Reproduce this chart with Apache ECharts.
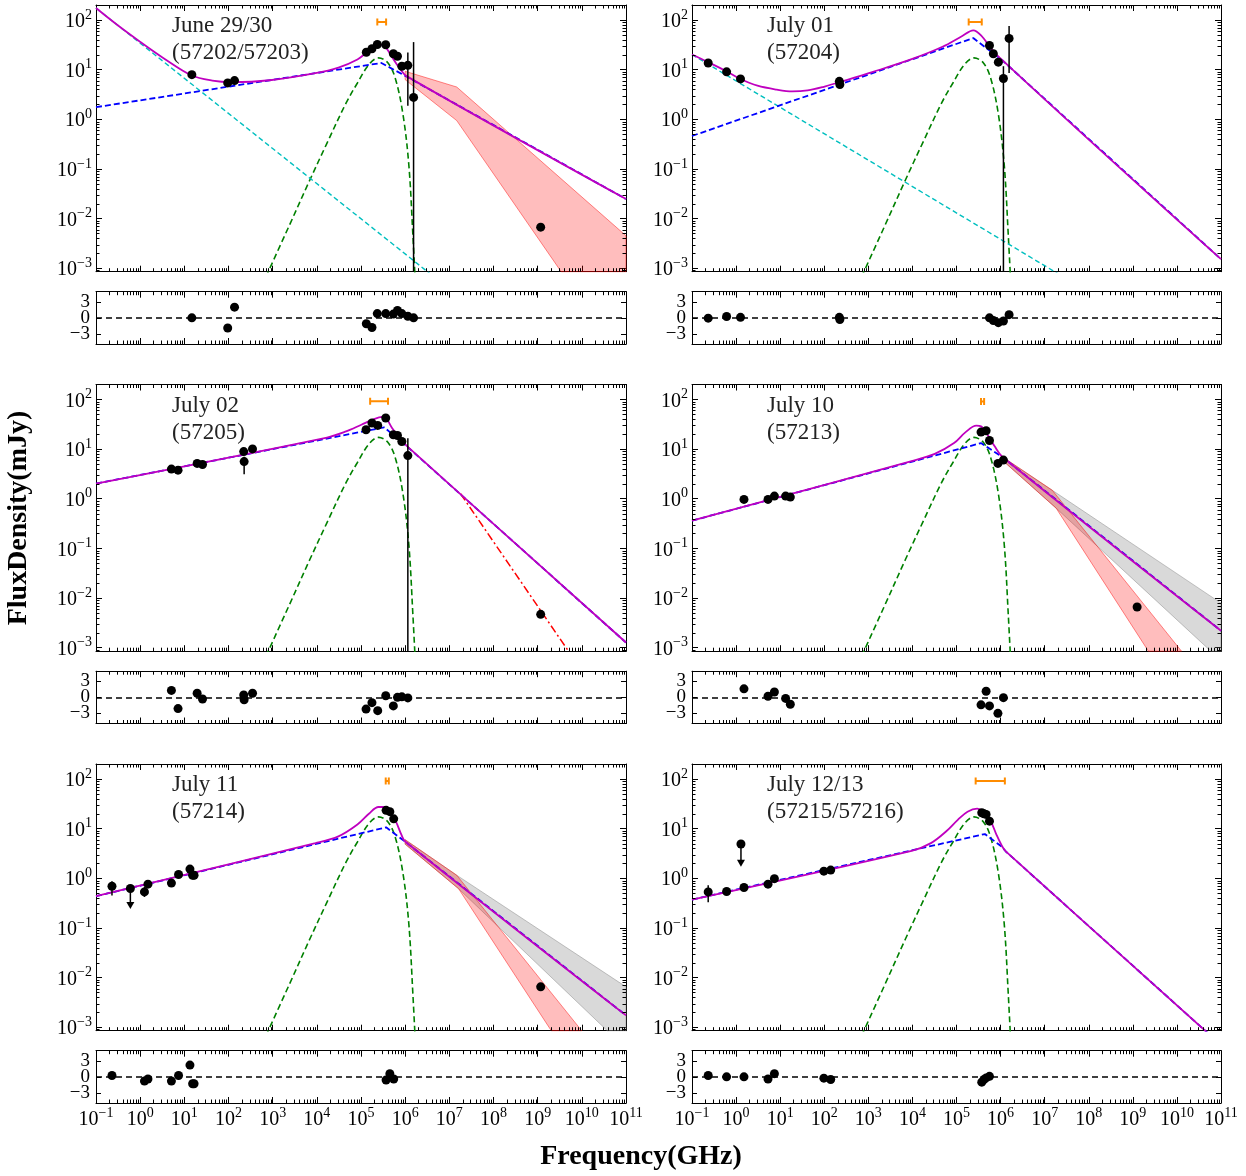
<!DOCTYPE html>
<html><head><meta charset="utf-8">
<script src="https://cdn.jsdelivr.net/npm/echarts@6/dist/echarts.min.js"></script>
<style>html,body{margin:0;padding:0;background:#fff}#c{width:1246px;height:1176px}</style>
</head><body><div id="c"></div>
<script>
// ======================= DATA (frequency in GHz, flux density in mJy) =======================
const xDecades = [-1,0,1,2,3,4,5,6,7,8,9,10,11];
const yDecades = [-3,-2,-1,0,1,2];
const resTicks = [-3,0,3];
const minorMult = [2,3,4,5,6,7,8,9];

const panelTitles = [['June 29/30','(57202/57203)'],['July 01','(57204)'],['July 02','(57205)'],['July 10','(57213)'],['July 11','(57214)'],['July 12/13','(57215/57216)']];

// shared thermal bump (green dashed)
const bumpFreq = [708, 2.32e3, 6.9e3, 1.69e4, 4.58e4, 8.3e4, 1.51e5, 2.49e5, 4.09e5, 6.1e5, 9.08e5, 1.22e6, 1.49e6, 1.7e6];
const bumpFlux = [6.8e-4, 6.9e-3, 0.059, 0.327, 2.11, 5.37, 12.6, 17.2, 13.6, 6.27, 1.13, 0.11, 4.9e-3, 5.0e-4];

// ---- Panel 1: June 29/30
const p1Freq = [14.8, 96, 137, 1.32e5, 1.77e5, 2.34e5, 3.63e5, 5.4e5, 6.7e5, 8.4e5, 1.15e6, 1.55e6, 1.17e9];
const p1Flux = [7.9, 5.4, 6.0, 22.4, 26.3, 32, 31.6, 20.8, 18.6, 11.7, 12.2, 2.75, 0.0067];
const p1ErrFreq = [1.15e6, 1.55e6];
const p1ErrLo = [1.86, 1e-5];
const p1ErrHi = [22, 35.8];
const p1ResFreq = [14.8, 96, 137, 1.32e5, 1.77e5, 2.34e5, 3.63e5, 5.4e5, 6.7e5, 8.4e5, 1.15e6, 1.55e6];
const p1Res = [0, -1.9, 2.0, -1.1, -1.8, 0.8, 0.8, 0.7, 1.4, 0.8, 0.3, 0];
const p1Opt = [2.34e5, 3.7e5, 91];
const p1TotFreq = [0.1, 0.3, 0.99, 3.26, 14.8, 43, 117, 857, 9.3e3, 3.08e4, 8.3e4, 1.51e5, 2.25e5, 3.0e5, 3.7e5, 5.0e5, 7.4e5, 1.1e6, 1e11];
const p1TotFlux = [174, 80, 36.5, 17.4, 7.6, 6.0, 5.6, 6.1, 8.5, 11, 16, 24, 29.5, 31.5, 27.5, 18.1, 10.8, 7.3, 0.0247];
const p1SynFreq = [0.1, 2.9e5, 1.1e6, 1e11];
const p1SynFlux = [1.75, 13.6, 7.15, 0.0247];
const p1SteepFreq = [0.1, 1e7];
const p1SteepFlux = [174, 3.8e-4];
const p1RedUpFreq = [1e6, 1.47e7, 1e11];
const p1RedUpFlux = [9.25, 4.46, 4.5e-3];
const p1RedLoFreq = [1e6, 1.47e7, 3.5e9, 1e11];
const p1RedLoFlux = [6.27, 0.94, 8.2e-4, 1.1e-5];

// ---- Panel 2: July 01
const p2Freq = [0.233, 0.61, 1.26, 220, 226, 5.6e5, 6.85e5, 8.9e5, 1.16e6, 1.56e6];
const p2Flux = [13.6, 9.0, 6.5, 5.8, 5.0, 30.6, 20.8, 14.1, 6.6, 42.5];
const p2ErrFreq = [226, 1.16e6, 1.56e6];
const p2ErrLo = [4.3, 1e-5, 8.5];
const p2ErrHi = [7.1, 11.7, 75.5];
const p2ResFreq = [0.233, 0.61, 1.26, 220, 226, 5.6e5, 6.85e5, 8.9e5, 1.16e6, 1.56e6];
const p2Res = [-0.06, 0.25, 0.1, 0.1, -0.3, 0, -0.5, -0.9, -0.6, 0.6];
const p2Opt = [1.89e5, 3.74e5, 91];
const p2TotFreq = [0.1, 0.233, 0.61, 1.26, 3.06, 8.4, 18.8, 41.9, 93.8, 223, 1.28e3, 9.6e3, 4.81e4, 1.32e5, 2.4e5, 3.6e5, 8.05e5, 1e11];
const p2TotFlux = [20.1, 14.1, 9.25, 6.47, 4.74, 3.94, 3.64, 3.81, 4.46, 5.6, 9.0, 16.2, 28.8, 46.8, 61.8, 48.9, 20.1, 1.52e-3];
const p2SynFreq = [0.1, 2.4e5, 1.09e6, 1e11];
const p2SynFlux = [0.46, 43.2, 15.4, 1.52e-3];
const p2SteepFreq = [0.1, 1e8];
const p2SteepFlux = [20.1, 3.3e-4];

// ---- Panel 3: July 02
const p3Freq = [5.1, 7.2, 19.5, 25.8, 221, 226, 350, 1.3e5, 1.77e5, 2.39e5, 3.63e5, 5.4e5, 6.7e5, 8.4e5, 1.15e6, 1.17e9];
const p3Flux = [3.95, 3.77, 5.15, 4.9, 8.9, 5.6, 10.1, 24.5, 33.5, 30, 42.4, 19.4, 18.8, 14.2, 7.4, 4.7e-3];
const p3ErrFreq = [226, 1.15e6];
const p3ErrLo = [3.1, 1e-5];
const p3ErrHi = [7.0, 16.6];
const p3ResFreq = [5.1, 7.2, 19.5, 25.8, 221, 226, 350, 1.3e5, 1.77e5, 2.39e5, 3.63e5, 5.4e5, 6.7e5, 8.4e5, 1.15e6];
const p3Res = [1.3, -2.1, 0.76, -0.3, 0.45, -0.45, 0.76, -2.2, -1.0, -2.5, 0.3, -1.6, 0, 0.1, -0.1];
const p3Opt = [1.61e5, 4.09e5, 92];
const p3TotFreq = [0.1, 1.7e4, 4.58e4, 1.02e5, 1.85e5, 3.03e5, 3.7e5, 5.0e5, 8.2e5, 1.1e6, 1e11];
const p3TotFlux = [2.02, 17.1, 22.7, 31, 39.2, 44.4, 42.4, 27, 15.3, 11.5, 1.27e-3];
const p3SynFreq = [0.1, 3.35e5, 1.1e6, 1e11];
const p3SynFlux = [2.02, 27.4, 11.3, 1.27e-3];
const p3ExtFreq = [1.8e7, 1e10];
const p3ExtFlux = [1.26, 3.45e-4];

// ---- Panel 4: July 10
const p4Freq = [1.51, 5.3, 7.4, 13.3, 17, 3.6e5, 4.7e5, 5.6e5, 8.7e5, 1.16e6, 1.25e9];
const p4Flux = [0.97, 0.97, 1.13, 1.13, 1.08, 22, 23.4, 14.9, 5.15, 6.0, 6.6e-3];
const p4ResFreq = [1.51, 5.3, 7.4, 13.3, 17, 3.6e5, 4.7e5, 5.6e5, 8.7e5, 1.16e6];
const p4Res = [1.6, 0.2, 1.0, -0.2, -1.3, -1.4, 1.15, -1.6, -3.0, -0.06];
const p4Opt = [3.6e5, 4.23e5, 91];
const p4TotFreq = [0.1, 9.6e3, 3.21e4, 8.79e4, 1.61e5, 2.82e5, 3.6e5, 5.38e5, 7.28e5, 1.09e6, 1e11];
const p4TotFlux = [0.362, 5.74, 8.0, 13.2, 22, 29.6, 28.7, 17.9, 11.5, 7.03, 2.2e-3];
const p4SynFreq = [0.1, 3.6e5, 1.09e6, 1e11];
const p4SynFlux = [0.362, 13.2, 6.95, 2.2e-3];
const p4RedUpFreq = [1.09e6, 1.49e7, 1e11];
const p4RedUpFlux = [7.03, 1.48, 8.7e-5];
const p4RedLoFreq = [1.09e6, 1.82e7, 1e11];
const p4RedLoFlux = [6.0, 0.646, 4.6e-6];
const p4GrayUpFreq = [1.09e6, 1.49e7, 1e11];
const p4GrayUpFlux = [7.03, 1.48, 7.9e-3];
const p4GrayLoFreq = [1.09e6, 1.82e7, 1e11];
const p4GrayLoFlux = [6.0, 0.646, 5.5e-4];

// ---- Panel 5: July 11
const p5Freq = [0.23, 1.25, 1.5, 5.1, 7.4, 13.4, 15.4, 16.6, 3.7e5, 4.5e5, 5.5e5, 1.17e9];
const p5Flux = [0.69, 0.53, 0.76, 0.80, 1.19, 1.53, 1.15, 1.15, 23.3, 21.9, 15.7, 6.5e-3];
const p5ErrFreq = [0.23, 1.25, 5.1];
const p5ErrLo = [0.45, 0.42, 0.68];
const p5ErrHi = [0.87, 0.67, 0.92];
const p5LimFreq = [0.6];
const p5LimFlux = [0.62];
const p5LimTo = [0.24];
const p5ResFreq = [0.23, 1.25, 1.5, 5.1, 7.4, 13.4, 15.4, 16.6, 3.7e5, 4.5e5, 5.5e5];
const p5Res = [0.25, -0.8, -0.4, -0.8, 0.25, 2.2, -1.3, -1.3, -0.6, 0.6, -0.4];
const p5Opt = [3.63e5, 4.26e5, 91];
const p5TotFreq = [0.1, 9.3e3, 3.08e4, 8.3e4, 1.51e5, 2.49e5, 3.35e5, 4.52e5, 6.1e5, 8.2e5, 1e6, 1e11];
const p5TotFlux = [0.435, 5.1, 6.98, 12.1, 19.9, 27.2, 27.2, 20.9, 14.1, 7.55, 5.51, 1.73e-3];
const p5SynFreq = [0.1, 3.7e5, 1e6, 1e11];
const p5SynFlux = [0.435, 10.6, 5.45, 1.73e-3];
const p5RedUpFreq = [1e6, 1.47e7, 1e11];
const p5RedUpFlux = [5.97, 1.15, 6.6e-5];
const p5RedLoFreq = [1e6, 1.62e7, 1e11];
const p5RedLoFlux = [4.86, 0.615, 4.2e-6];
const p5GrayUpFreq = [1e6, 1.47e7, 1e11];
const p5GrayUpFlux = [5.97, 1.15, 6.5e-3];
const p5GrayLoFreq = [1e6, 1.62e7, 1e11];
const p5GrayLoFlux = [4.86, 0.615, 3.7e-4];

// ---- Panel 6: July 12/13
const p6Freq = [0.233, 0.61, 1.51, 5.3, 7.4, 98, 140, 3.74e5, 4.2e5, 4.7e5, 5.6e5];
const p6Flux = [0.53, 0.54, 0.65, 0.76, 0.98, 1.39, 1.46, 20.9, 19.8, 19.3, 14.1];
const p6ErrFreq = [0.233, 0.61];
const p6ErrLo = [0.33, 0.46];
const p6ErrHi = [0.72, 0.63];
const p6LimFreq = [1.29];
const p6LimFlux = [4.9];
const p6LimTo = [1.7];
const p6ResFreq = [0.233, 0.61, 1.51, 5.3, 7.4, 98, 140, 3.74e5, 4.2e5, 4.7e5, 5.6e5];
const p6Res = [0.25, 0, 0, -0.4, 0.6, -0.25, -0.5, -1.0, -0.5, -0.2, 0.1];
const p6Opt = [2.72e5, 1.25e6, 91];
const p6TotFreq = [0.1, 9.6e3, 2.63e4, 5.87e4, 1.07e5, 1.78e5, 2.94e5, 3.98e5, 5.96e5, 8.05e5, 1.09e6, 1.33e6, 1e11];
const p6TotFlux = [0.372, 3.56, 5.09, 8.83, 15, 21.9, 25.2, 21.9, 14.1, 7.55, 4.36, 3.44, 4.4e-4];
const p6SynFreq = [0.1, 4.4e5, 1.09e6, 1.33e6, 1e11];
const p6SynFlux = [0.372, 7.78, 4.25, 3.42, 4.4e-4];

// ======================= BUILD =======================
const LOG = v => Math.log10(v);
const FONT = '"Liberation Serif", "Times New Roman", serif';
const COL_X = [96, 692], COL_W = [530, 529];
const ROW_Y = [5, 384.5, 764];
const MAIN_H = 266.7, RES_OFF = 286.7, RES_H = 52.3;
const Y_MIN = LOG(8.5e-4), Y_MAX = LOG(200);
const R_MIN = -4.9, R_MAX = 4.9;

const panels = [
  {freq:p1Freq, flux:p1Flux, errF:p1ErrFreq, errLo:p1ErrLo, errHi:p1ErrHi, resF:p1ResFreq, res:p1Res, opt:p1Opt,
   tot:[p1TotFreq,p1TotFlux], syn:[p1SynFreq,p1SynFlux], steep:[p1SteepFreq,p1SteepFlux],
   red:[p1RedUpFreq,p1RedUpFlux,p1RedLoFreq,p1RedLoFlux]},
  {freq:p2Freq, flux:p2Flux, errF:p2ErrFreq, errLo:p2ErrLo, errHi:p2ErrHi, resF:p2ResFreq, res:p2Res, opt:p2Opt,
   tot:[p2TotFreq,p2TotFlux], syn:[p2SynFreq,p2SynFlux], steep:[p2SteepFreq,p2SteepFlux]},
  {freq:p3Freq, flux:p3Flux, errF:p3ErrFreq, errLo:p3ErrLo, errHi:p3ErrHi, resF:p3ResFreq, res:p3Res, opt:p3Opt,
   tot:[p3TotFreq,p3TotFlux], syn:[p3SynFreq,p3SynFlux], ext:[p3ExtFreq,p3ExtFlux]},
  {freq:p4Freq, flux:p4Flux, resF:p4ResFreq, res:p4Res, opt:p4Opt,
   tot:[p4TotFreq,p4TotFlux], syn:[p4SynFreq,p4SynFlux],
   gray:[p4GrayUpFreq,p4GrayUpFlux,p4GrayLoFreq,p4GrayLoFlux], red:[p4RedUpFreq,p4RedUpFlux,p4RedLoFreq,p4RedLoFlux]},
  {freq:p5Freq, flux:p5Flux, errF:p5ErrFreq, errLo:p5ErrLo, errHi:p5ErrHi, lim:[p5LimFreq,p5LimFlux,p5LimTo], resF:p5ResFreq, res:p5Res, opt:p5Opt,
   tot:[p5TotFreq,p5TotFlux], syn:[p5SynFreq,p5SynFlux],
   gray:[p5GrayUpFreq,p5GrayUpFlux,p5GrayLoFreq,p5GrayLoFlux], red:[p5RedUpFreq,p5RedUpFlux,p5RedLoFreq,p5RedLoFlux]},
  {freq:p6Freq, flux:p6Flux, errF:p6ErrFreq, errLo:p6ErrLo, errHi:p6ErrHi, lim:[p6LimFreq,p6LimFlux,p6LimTo], resF:p6ResFreq, res:p6Res, opt:p6Opt,
   tot:[p6TotFreq,p6TotFlux], syn:[p6SynFreq,p6SynFlux]}
];

const xMinor = []; xDecades.slice(0,-1).forEach(k => minorMult.forEach(m => xMinor.push(k + LOG(m))));
const yMinor = []; [-4,-3,-2,-1,0,1,2].forEach(k => minorMult.forEach(m => { const v = k + LOG(m); if (v > Y_MIN && v < Y_MAX) yMinor.push(v); }));

const richLog = {
  b: {fontFamily: FONT, fontSize: 20, lineHeight: 24, verticalAlign: 'bottom', color: '#000'},
  s: {fontFamily: FONT, fontSize: 14, lineHeight: 12, verticalAlign: 'top', color: '#000'}
};
function logLabel(v) {
  const e = Math.round(v);
  if (Math.abs(v - e) > 1e-6) return '';
  return '{b|10}{s|' + (e < 0 ? '\u2212' + (-e) : e) + '}';
}
function resLabel(v) {
  return v < 0 ? '\u2212' + (-v) : String(v);
}
const axLine = {show: true, onZero: false, lineStyle: {color: '#000', width: 1}};
const tickStyle = {color: '#000', width: 1};

function clipPoly(pts, r) {
  const X0 = r.x, X1 = r.x + r.width, Y0 = r.y, Y1 = r.y + r.height;
  const edges = [
    [p => p[0] >= X0, (a, b) => [X0, a[1] + (X0 - a[0]) / (b[0] - a[0]) * (b[1] - a[1])]],
    [p => p[0] <= X1, (a, b) => [X1, a[1] + (X1 - a[0]) / (b[0] - a[0]) * (b[1] - a[1])]],
    [p => p[1] >= Y0, (a, b) => [a[0] + (Y0 - a[1]) / (b[1] - a[1]) * (b[0] - a[0]), Y0]],
    [p => p[1] <= Y1, (a, b) => [a[0] + (Y1 - a[1]) / (b[1] - a[1]) * (b[0] - a[0]), Y1]]
  ];
  let out = pts;
  for (const [inside, inter] of edges) {
    const inp = out; out = [];
    for (let i = 0; i < inp.length; i++) {
      const cur = inp[i], prev = inp[(i + inp.length - 1) % inp.length];
      const ci = inside(cur), pi = inside(prev);
      if (ci) { if (!pi) out.push(inter(prev, cur)); out.push(cur); }
      else if (pi) out.push(inter(prev, cur));
    }
  }
  return out;
}

const grids = [], xAxes = [], yAxes = [], series = [], graphics = [];

function addGrid(left, top, width, height, isMain, showXLabels) {
  const g = grids.length;
  grids.push({left, top, width, height});
  const xb = {type: 'value', gridIndex: g, min: -1, max: 11, interval: 1, splitLine: {show: false}, axisLine: axLine,
              axisTick: {show: true, inside: true, length: 6, lineStyle: tickStyle}};
  xAxes.push(Object.assign({}, xb, {position: 'bottom',
    axisLabel: showXLabels ? {show: true, margin: 3, hideOverlap: false, formatter: logLabel, rich: richLog} : {show: false}}));
  xAxes.push(Object.assign({}, xb, {position: 'top', axisLabel: {show: false}}));
  let yb;
  if (isMain) {
    yb = {type: 'value', gridIndex: g, min: Y_MIN, max: Y_MAX, splitNumber: 5, splitLine: {show: false}, axisLine: axLine,
          axisTick: {show: true, inside: true, length: 6, lineStyle: tickStyle, customValues: yDecades}};
    yAxes.push(Object.assign({}, yb, {position: 'left',
      axisLabel: {show: true, margin: 4, hideOverlap: false, formatter: logLabel, rich: richLog, customValues: yDecades}}));
  } else {
    yb = {type: 'value', gridIndex: g, min: R_MIN, max: R_MAX, splitNumber: 3, splitLine: {show: false}, axisLine: axLine,
          axisTick: {show: true, inside: true, length: 5, lineStyle: tickStyle, customValues: resTicks},
          axisLabel: {show: false}};
    yAxes.push(Object.assign({}, yb, {position: 'left'}));
  }
  yAxes.push(Object.assign({}, yb, {position: 'right', axisLabel: {show: false}}));
  // minor ticks (log decade subdivisions) + residual tick labels
  series.push({type: 'custom', xAxisIndex: 2 * g, yAxisIndex: 2 * g, silent: true, z: 6, data: [[0, 0]],
    renderItem(params, api) {
      const cs = params.coordSys, ch = [], st = {stroke: '#000', lineWidth: 1};
      xMinor.forEach(v => {
        const x = Math.round(api.coord([v, 0])[0]) + 0.5;
        ch.push({type: 'line', shape: {x1: x, y1: cs.y + cs.height, x2: x, y2: cs.y + cs.height - 3.5}, style: st});
        ch.push({type: 'line', shape: {x1: x, y1: cs.y, x2: x, y2: cs.y + 3.5}, style: st});
      });
      if (isMain) {
        yMinor.forEach(v => {
          const y = Math.round(api.coord([0, v])[1]) + 0.5;
          ch.push({type: 'line', shape: {x1: cs.x, y1: y, x2: cs.x + 3.5, y2: y}, style: st});
          ch.push({type: 'line', shape: {x1: cs.x + cs.width, y1: y, x2: cs.x + cs.width - 3.5, y2: y}, style: st});
        });
      } else {
        resTicks.forEach(v => {
          const y = api.coord([0, v])[1];
          ch.push({type: 'text', x: cs.x - 6, y: y,
            style: {text: resLabel(v), font: '19px ' + FONT, fill: '#000',
                    textAlign: 'right', textVerticalAlign: 'middle', align: 'right', verticalAlign: 'middle'}});
        });
      }
      return {type: 'group', children: ch};
    }});
  return g;
}

function line(g, fr, fl, color, width, dash, smooth, z) {
  series.push({type: 'line', xAxisIndex: 2 * g, yAxisIndex: 2 * g, silent: true, z: z, clip: true,
    showSymbol: false, symbol: 'none', smooth: smooth || false,
    data: fr.map((f, i) => [LOG(f), LOG(fl[i])]),
    lineStyle: {color: color, width: width, type: dash || 'solid'}});
}
function band(g, b, fill, stroke) {
  const [uf, uv, lf, lv] = b;
  series.push({type: 'custom', xAxisIndex: 2 * g, yAxisIndex: 2 * g, silent: true, z: 1, data: [[0, 0]],
    renderItem(params, api) {
      const up = uf.map((f, i) => api.coord([LOG(f), LOG(uv[i])]));
      const lo = lf.map((f, i) => api.coord([LOG(f), LOG(lv[i])])).reverse();
      return {type: 'polygon', shape: {points: clipPoly(up.concat(lo), params.coordSys)},
              style: {fill: fill, stroke: stroke, lineWidth: 1}};
    }});
}
function dots(g, fr, vals, isLog) {
  series.push({type: 'scatter', xAxisIndex: 2 * g, yAxisIndex: 2 * g, silent: true, z: 5, symbol: 'circle', symbolSize: 9,
    itemStyle: {color: '#000', opacity: 1}, data: fr.map((f, i) => [LOG(f), isLog ? LOG(vals[i]) : vals[i]])});
  return series[series.length - 1];
}

panels.forEach((p, idx) => {
  const col = idx % 2, row = Math.floor(idx / 2);
  const gm = addGrid(COL_X[col], ROW_Y[row], COL_W[col], MAIN_H, true, false);
  const gr = addGrid(COL_X[col], ROW_Y[row] + RES_OFF, COL_W[col], RES_H, false, row === 2);

  if (p.gray) band(gm, p.gray, 'rgba(128,128,128,0.3)', 'rgba(128,128,128,0.45)');
  if (p.red) band(gm, p.red, 'rgba(255,0,0,0.26)', 'rgba(255,0,0,0.45)');
  line(gm, bumpFreq, bumpFlux, '#008000', 1.6, [6, 3.5], 0.35, 2);
  if (p.steep) line(gm, p.steep[0], p.steep[1], '#00bfbf', 1.4, [5, 3], false, 2);
  line(gm, p.syn[0], p.syn[1], '#0000ff', 1.8, [6, 3], false, 3);
  if (p.ext) line(gm, p.ext[0], p.ext[1], '#ff0000', 1.5, [8, 3, 2, 3], false, 3);
  line(gm, p.tot[0], p.tot[1], '#bf00bf', 1.8, 'solid', 0.35, 3);

  if (p.errF) {
    series.push({type: 'custom', xAxisIndex: 2 * gm, yAxisIndex: 2 * gm, silent: true, z: 4,
      data: p.errF.map((f, i) => [LOG(f), LOG(p.errLo[i]), LOG(p.errHi[i])]),
      renderItem(params, api) {
        const cs = params.coordSys;
        const cl = y => Math.max(cs.y, Math.min(cs.y + cs.height, y));
        const a = api.coord([api.value(0), api.value(2)]), b = api.coord([api.value(0), api.value(1)]);
        return {type: 'line', shape: {x1: a[0], y1: cl(a[1]), x2: b[0], y2: cl(b[1])}, style: {stroke: '#000', lineWidth: 1.5}};
      }});
  }
  if (p.lim) {
    series.push({type: 'custom', xAxisIndex: 2 * gm, yAxisIndex: 2 * gm, silent: true, z: 4,
      data: p.lim[0].map((f, i) => [LOG(f), LOG(p.lim[1][i]), LOG(p.lim[2][i])]),
      renderItem(params, api) {
        const a = api.coord([api.value(0), api.value(1)]), b = api.coord([api.value(0), api.value(2)]);
        return {type: 'group', children: [
          {type: 'line', shape: {x1: a[0], y1: a[1], x2: b[0], y2: b[1] - 5}, style: {stroke: '#000', lineWidth: 1.5}},
          {type: 'polygon', shape: {points: [[b[0] - 4, b[1] - 7], [b[0] + 4, b[1] - 7], [b[0], b[1]]]}, style: {fill: '#000'}}
        ]};
      }});
    dots(gm, p.lim[0], p.lim[1], true);
  }
  series.push({type: 'custom', xAxisIndex: 2 * gm, yAxisIndex: 2 * gm, silent: true, z: 4,
    data: [[LOG(p.opt[0]), LOG(p.opt[1]), LOG(p.opt[2])]],
    renderItem(params, api) {
      const a = api.coord([api.value(0), api.value(2)]), b = api.coord([api.value(1), api.value(2)]);
      const st = {stroke: '#ff8c00', lineWidth: 2};
      return {type: 'group', children: [
        {type: 'line', shape: {x1: a[0], y1: a[1], x2: b[0], y2: b[1]}, style: st},
        {type: 'line', shape: {x1: a[0], y1: a[1] - 3.5, x2: a[0], y2: a[1] + 3.5}, style: st},
        {type: 'line', shape: {x1: b[0], y1: b[1] - 3.5, x2: b[0], y2: b[1] + 3.5}, style: st}
      ]};
    }});
  dots(gm, p.freq, p.flux, true);

  const rs = dots(gr, p.resF, p.res, false);
  rs.markLine = {silent: true, symbol: 'none', label: {show: false}, animation: false,
    lineStyle: {color: '#000', type: [6, 4], width: 1.5}, data: [{yAxis: 0}]};

  const tx = col === 0 ? 172 : 767;
  graphics.push({type: 'text', x: tx, y: ROW_Y[row] + 21, z: 100,
    style: {text: panelTitles[idx][0], font: '23px ' + FONT, fill: '#222', textAlign: 'left', textVerticalAlign: 'middle', align: 'left', verticalAlign: 'middle'}});
  graphics.push({type: 'text', x: tx, y: ROW_Y[row] + 48, z: 100,
    style: {text: panelTitles[idx][1], font: '23px ' + FONT, fill: '#222', textAlign: 'left', textVerticalAlign: 'middle', align: 'left', verticalAlign: 'middle'}});
});

graphics.push({type: 'text', x: 641, y: 1157, z: 100,
  style: {text: 'Frequency(GHz)', font: 'bold 28px ' + FONT, fill: '#000', textAlign: 'center', textVerticalAlign: 'middle', align: 'center', verticalAlign: 'middle'}});
graphics.push({type: 'text', x: 19, y: 518, rotation: Math.PI / 2, z: 100,
  style: {text: 'FluxDensity(mJy)', font: 'bold 28px ' + FONT, fill: '#000', textAlign: 'center', textVerticalAlign: 'middle', align: 'center', verticalAlign: 'middle'}});

const chart = echarts.init(document.getElementById('c'), null, {renderer: 'canvas'});
chart.setOption({
  animation: false,
  backgroundColor: '#fff',
  textStyle: {fontFamily: FONT},
  grid: grids, xAxis: xAxes, yAxis: yAxes, series: series, graphic: graphics
});
</script></body></html>
